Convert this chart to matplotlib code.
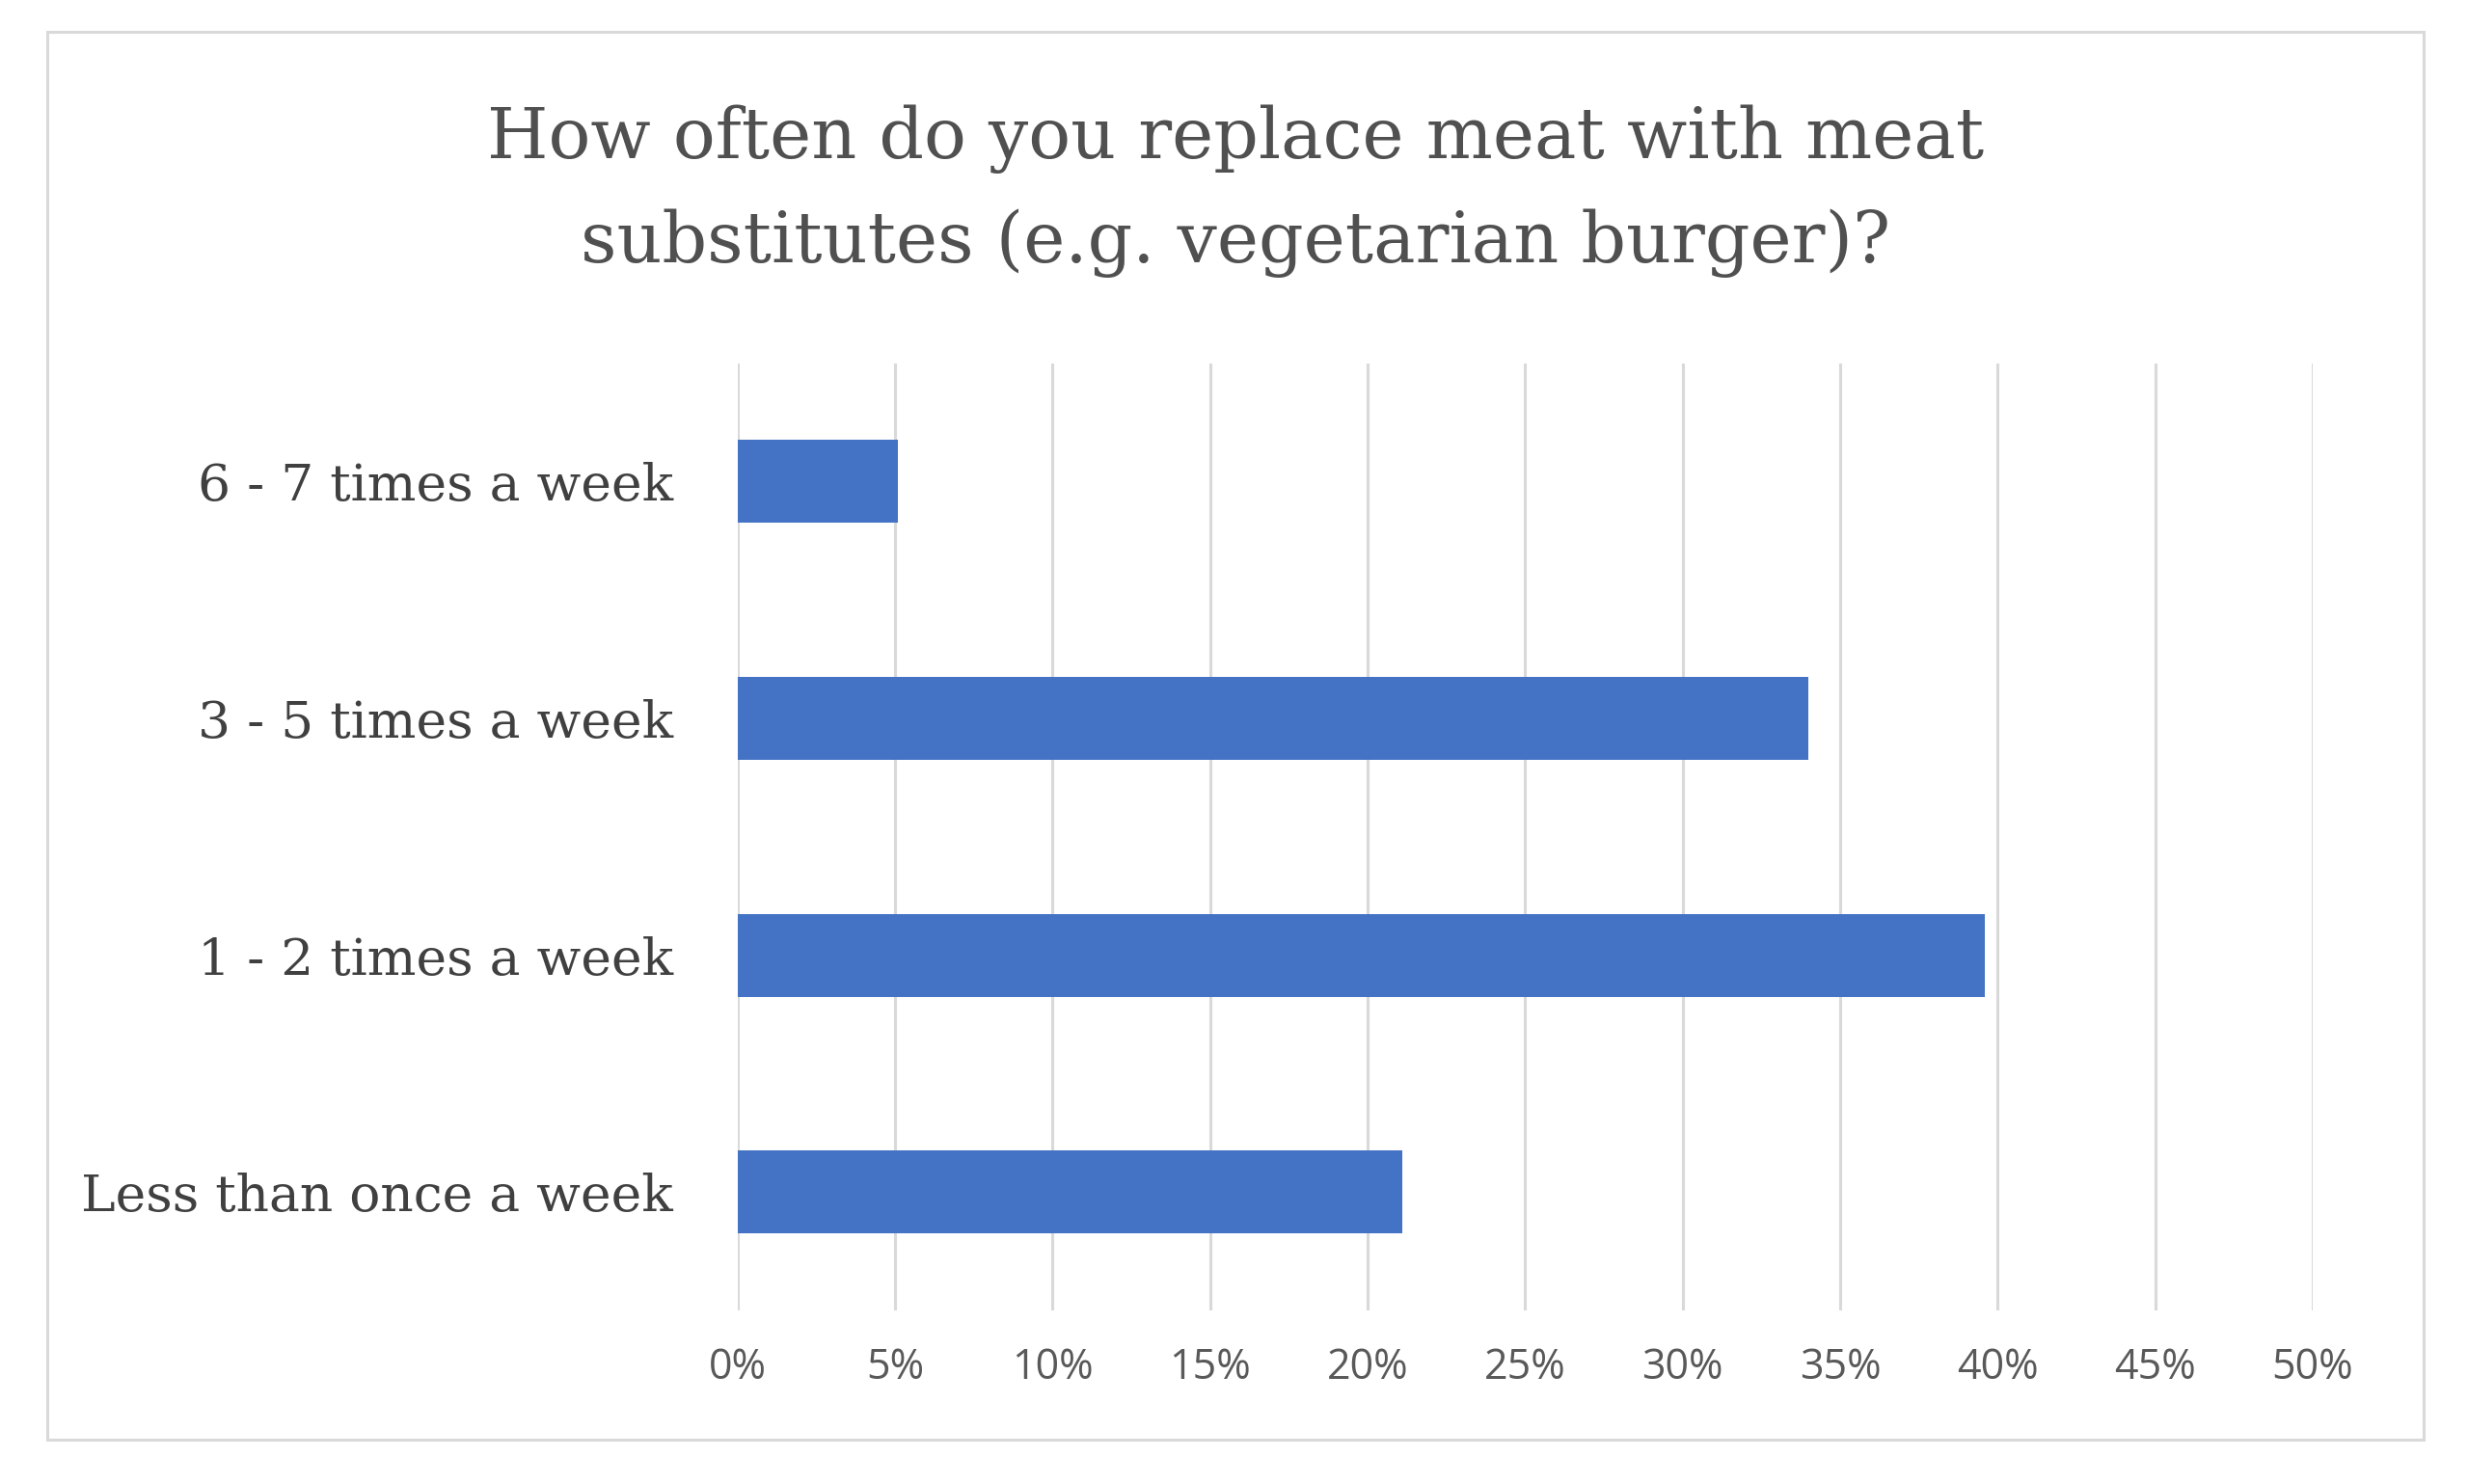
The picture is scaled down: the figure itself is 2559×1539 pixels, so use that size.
import matplotlib
matplotlib.use("Agg")
import matplotlib.pyplot as plt
from matplotlib.patches import Rectangle
from matplotlib.ticker import FuncFormatter

categories = ["Less than once a week", "1 - 2 times a week", "3 - 5 times a week", "6 - 7 times a week"]
values = [21.1, 39.6, 34.0, 5.1]
xticks = [0, 5, 10, 15, 20, 25, 30, 35, 40, 45, 50]
title = "How often do you replace meat with meat\nsubstitutes (e.g. vegetarian burger)?"

W, H = 2559, 1539
fig = plt.figure(figsize=(W / 100, H / 100), dpi=100)
fig.patch.set_facecolor("white")

# outer chart border
fig.patches.append(Rectangle((49 / W, 1 - 1493 / H), (2513 - 49) / W, (1493 - 33) / H,
                             transform=fig.transFigure, fill=False,
                             edgecolor="#d9d9d9", linewidth=2.2))

ax = fig.add_axes([764.5 / W, 1 - 1359 / H, (2398 - 764.5) / W, (1359 - 376.5) / H])
ax.barh(range(len(categories)), values, height=0.35, color="#4472c4", zorder=3)
ax.set_xlim(0, 50)
ax.set_ylim(-0.5, len(categories) - 0.5)
ax.set_xticks(xticks)
ax.xaxis.set_major_formatter(FuncFormatter(lambda v, p: f"{v:.0f}%"))
ax.set_yticks(range(len(categories)))
ax.set_yticklabels(categories)
for s in ax.spines.values():
    s.set_visible(False)
ax.grid(axis="x", color="#d9d9d9", linewidth=2.2, zorder=0)
ax.tick_params(axis="both", length=0)
ax.tick_params(axis="x", pad=27, labelsize=31, labelcolor="#595959")
ax.tick_params(axis="y", pad=48, labelsize=38.5, labelcolor="#404040")
for t in ax.get_xticklabels():
    t.set_fontfamily("Open Sans")
for t in ax.get_yticklabels():
    t.set_fontfamily("DejaVu Serif")

fig.text(0.5 * (49 + 2513) / W, 1 - 198 / H, title, ha="center", va="center",
         fontsize=52.5, color="#505050", family="DejaVu Serif", linespacing=1.65)

fig.savefig("out.png", dpi=100, facecolor="white")
